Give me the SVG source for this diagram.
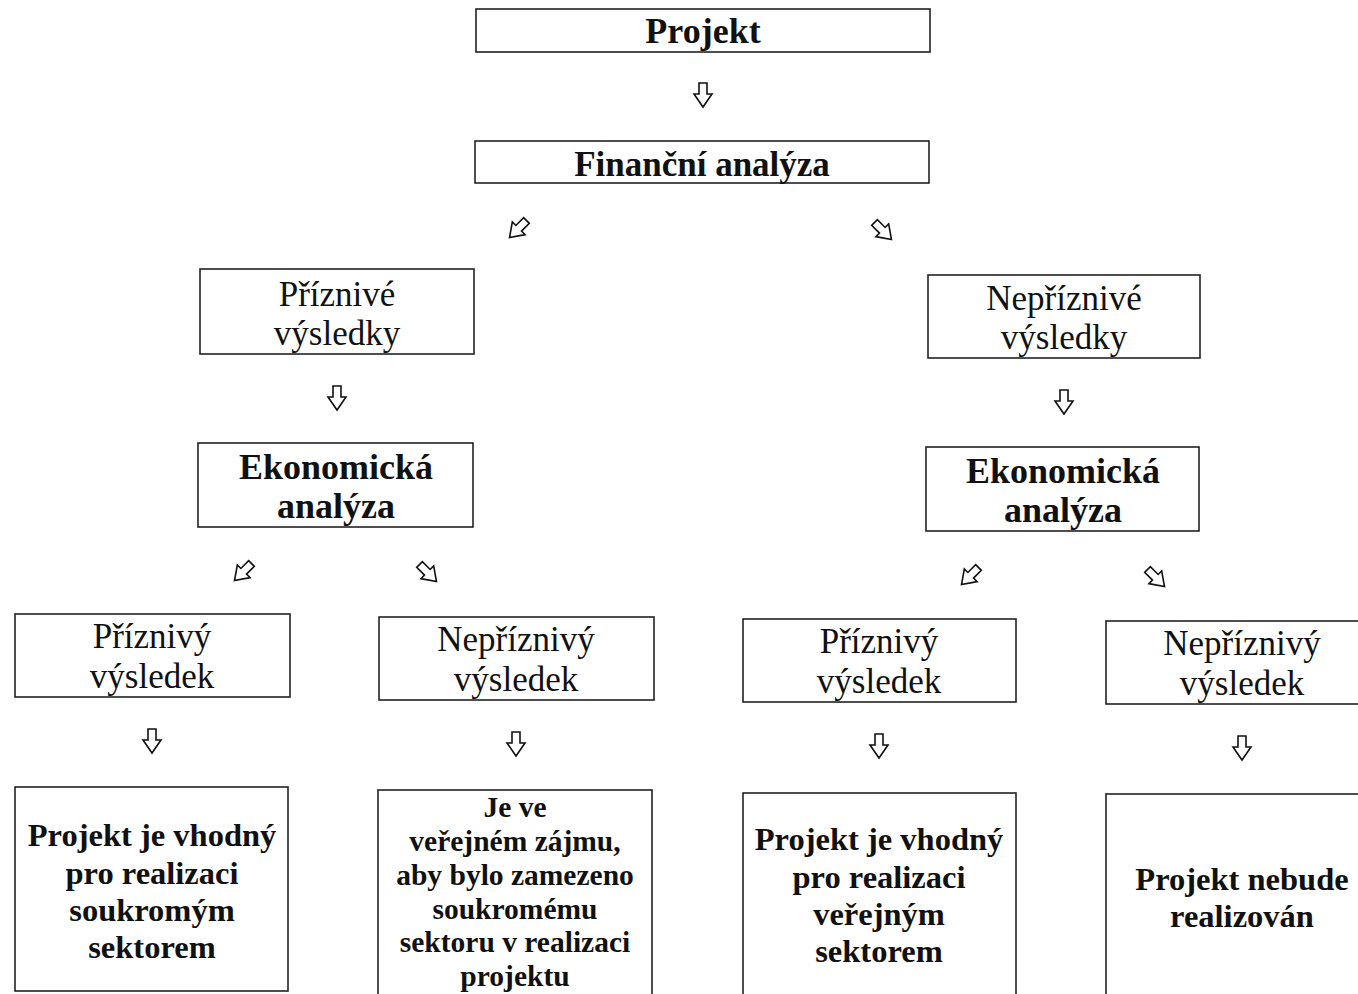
<svg xmlns="http://www.w3.org/2000/svg" width="1358" height="994" viewBox="0 0 1358 994">
<style>
.box{fill:#fff;stroke:#222;stroke-width:1.6}
.b{font-family:"Liberation Serif","Times New Roman",serif;font-weight:bold;fill:#111;text-anchor:middle}
.r{font-family:"Liberation Serif","Times New Roman",serif;fill:#111;text-anchor:middle}
.arr{fill:#fff;stroke:#111;stroke-width:1.6;stroke-linejoin:miter}
</style>
<defs>
<path id="da" d="M-4,-12 H4 V-1 H9 L0,12 L-9,-1 H-4 Z"/>
</defs>
<rect width="1358" height="994" fill="#fff"/>
<g id="connectors">
<use href="#da" class="arr" transform="translate(703,95)"/>
<use href="#da" class="arr" transform="translate(518,229) rotate(45)"/>
<use href="#da" class="arr" transform="translate(883,231) rotate(-45)"/>
<use href="#da" class="arr" transform="translate(337,398)"/>
<use href="#da" class="arr" transform="translate(1064,402)"/>
<use href="#da" class="arr" transform="translate(243,572) rotate(45)"/>
<use href="#da" class="arr" transform="translate(428,573) rotate(-45)"/>
<use href="#da" class="arr" transform="translate(970,576) rotate(45)"/>
<use href="#da" class="arr" transform="translate(1156,578) rotate(-45)"/>
<use href="#da" class="arr" transform="translate(152,741)"/>
<use href="#da" class="arr" transform="translate(516,744)"/>
<use href="#da" class="arr" transform="translate(879,746)"/>
<use href="#da" class="arr" transform="translate(1242,748)"/>
</g>
<g id="projekt"><rect class="box" x="476" y="9" width="454" height="43"/><text class="b" x="703" y="43" font-size="36">Projekt</text></g>
<g id="financni"><rect class="box" x="475" y="141" width="454" height="42"/><text class="b" x="702" y="176" font-size="35">Finanční analýza</text></g>
<g id="priznive"><rect class="box" x="200" y="269" width="274" height="85"/><text class="r" x="337" y="306" font-size="35">Příznivé</text><text class="r" x="337" y="345" font-size="35">výsledky</text></g>
<g id="nepriznive"><rect class="box" x="928" y="275" width="272" height="83"/><text class="r" x="1064" y="310" font-size="35">Nepříznivé</text><text class="r" x="1064" y="349" font-size="35">výsledky</text></g>
<g id="ekon1"><rect class="box" x="198" y="443" width="275" height="84"/><text class="b" x="336" y="479" font-size="36">Ekonomická</text><text class="b" x="336" y="518" font-size="36">analýza</text></g>
<g id="ekon2"><rect class="box" x="926" y="447" width="273" height="84"/><text class="b" x="1063" y="483" font-size="36">Ekonomická</text><text class="b" x="1063" y="522" font-size="36">analýza</text></g>
<g id="v1"><rect class="box" x="15" y="614" width="275" height="83"/><text class="r" x="152" y="648" font-size="35">Příznivý</text><text class="r" x="152" y="688" font-size="35">výsledek</text></g>
<g id="v2"><rect class="box" x="379" y="617" width="275" height="83"/><text class="r" x="516" y="651" font-size="35">Nepříznivý</text><text class="r" x="516" y="691" font-size="35">výsledek</text></g>
<g id="v3"><rect class="box" x="743" y="619" width="273" height="83"/><text class="r" x="879" y="653" font-size="35">Příznivý</text><text class="r" x="879" y="693" font-size="35">výsledek</text></g>
<g id="v4"><rect class="box" x="1106" y="621" width="260" height="83"/><text class="r" x="1242" y="655" font-size="35">Nepříznivý</text><text class="r" x="1242" y="695" font-size="35">výsledek</text></g>
<g id="z1"><rect class="box" x="15" y="787" width="273" height="204"/><text class="b" x="152" y="846" font-size="32.5">Projekt je vhodný</text><text class="b" x="152" y="884" font-size="32.5">pro realizaci</text><text class="b" x="152" y="921" font-size="32.5">soukromým</text><text class="b" x="152" y="958" font-size="32.5">sektorem</text></g>
<g id="z2"><rect class="box" x="378" y="790" width="274" height="220"/><text class="b" x="515" y="817" font-size="29.5">Je ve</text><text class="b" x="515" y="851" font-size="29.5">veřejném zájmu,</text><text class="b" x="515" y="885" font-size="29.5">aby bylo zamezeno</text><text class="b" x="515" y="919" font-size="29.5">soukromému</text><text class="b" x="515" y="952" font-size="29.5">sektoru v realizaci</text><text class="b" x="515" y="986" font-size="29.5">projektu</text></g>
<g id="z3"><rect class="box" x="743" y="793" width="273" height="220"/><text class="b" x="879" y="850" font-size="32.5">Projekt je vhodný</text><text class="b" x="879" y="888" font-size="32.5">pro realizaci</text><text class="b" x="879" y="925" font-size="32.5">veřejným</text><text class="b" x="879" y="962" font-size="32.5">sektorem</text></g>
<g id="z4"><rect class="box" x="1106" y="794" width="260" height="220"/><text class="b" x="1242" y="890" font-size="32.5">Projekt nebude</text><text class="b" x="1242" y="927" font-size="32.5">realizován</text></g>
</svg>
